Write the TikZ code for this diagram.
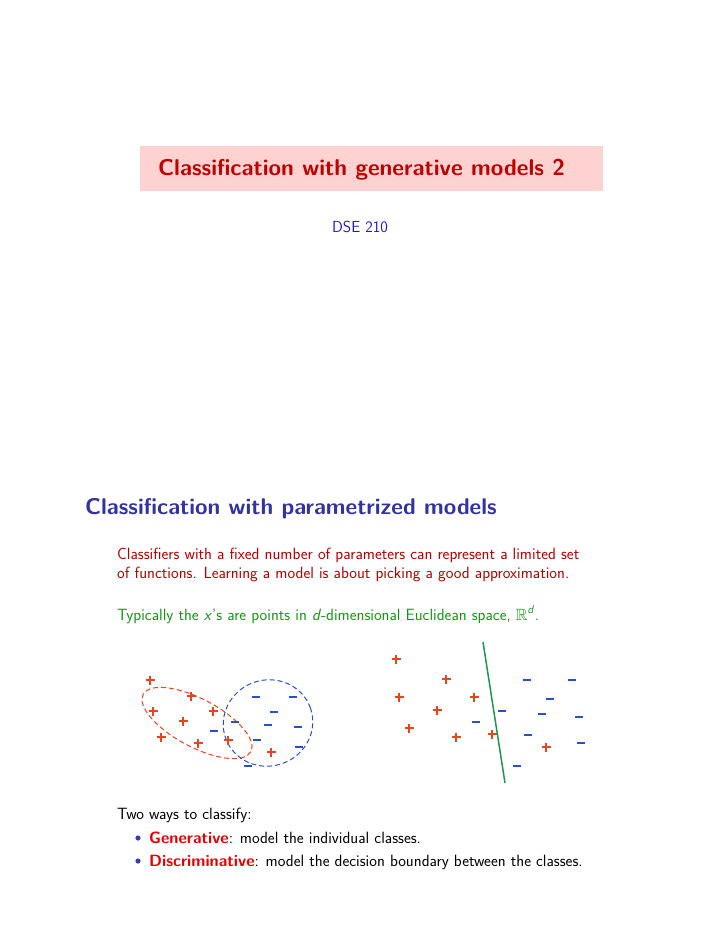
\documentclass[tikz,border=0pt]{standalone}
\usepackage{amssymb}
\definecolor{ttlred}{RGB}{190,0,0}
\definecolor{boxpink}{RGB}{255,210,210}
\definecolor{dseblue}{RGB}{30,30,200}
\definecolor{headblue}{RGB}{50,50,160}
\definecolor{parared}{RGB}{180,0,0}
\definecolor{paragreen}{RGB}{20,150,20}
\definecolor{ptred}{RGB}{230,70,30}
\definecolor{ptblue}{RGB}{40,80,200}
\definecolor{lineg}{RGB}{30,150,80}
\definecolor{genred}{RGB}{230,0,0}
\definecolor{bulblue}{RGB}{60,60,170}
\begin{document}
\begin{tikzpicture}[x=1pt,y=-1pt,font=\sffamily,
  txt/.style={anchor=base west,inner sep=0pt},
  pl/.style={ptred,line width=1.7pt},
  mi/.style={ptblue,line width=1.9pt},
  ell/.style={dashed,line width=1pt,dash pattern=on 5pt off 3pt}]
\useasboundingbox (0,0) rectangle (720,932);
\fill[boxpink] (140,146) rectangle (603,191);
\node[anchor=base west,inner sep=0pt,text=ttlred,font=\sffamily\bfseries\fontsize{22.8}{26}\selectfont] (title) at (158,175) {Classification with generative models 2};
\node[anchor=base,inner sep=0pt,text=dseblue,font=\sffamily\fontsize{16}{19}\selectfont] (dse) at (360,232) {DSE 210};
\node[txt,text=headblue,font=\sffamily\bfseries\fontsize{22.7}{26}\selectfont] (head) at (85,514) {Classification with parametrized models};
\begin{scope}[font=\sffamily\fontsize{16.3}{19}\selectfont]
\node[txt,text=parared] (p1) at (117,559) {Classifiers with a fixed number of parameters can represent a limited set};
\node[txt,text=parared] (p2) at (117,578) {of functions. Learning a model is about picking a good approximation.};
\node[txt,text=paragreen] (p3) at (117,620) {Typically the \textit{x}'s are points in \textit{d}-dimensional Euclidean space, $\mathbb{R}$\textsuperscript{\textit{d}}.};
\node[txt] (two) at (117,819) {Two ways to classify:};
\node[txt] (b1) at (149,843) {\textcolor{genred}{\bfseries Generative}: model the individual classes.};
\node[txt] (b2) at (149,866) {\textcolor{genred}{\bfseries Discriminative}: model the decision boundary between the classes.};
\end{scope}
\fill[bulblue] (138,838) circle (2.6);
\fill[bulblue] (138,861) circle (2.6);
% ellipses
\draw[ell,ptred] (197,723) ellipse[x radius=61,y radius=24,rotate=-28];
\draw[ell,ptblue] (268,723) ellipse[x radius=45,y radius=43,rotate=20];
% points
\foreach \x/\y in {150/680,191/696,153/711,213/711,183/721,161/737,198/743,228/740,271/752,
  396/659,446/679,399/697,474/697,437/710,409/728,456/737,492/734,546/747}
  \draw[pl] (\x-4.5,\y) -- (\x+4.5,\y) (\x,\y-4.5) -- (\x,\y+4.5);
\foreach \x/\y in {256/697,293/697,274/712,214/731,235/722,268/725,298/727,257/740,299/747,248/766,
  527/680,572/680,550/699,502/711,542/714,579/717,476/722,528/735,581/743,517/766}
  \draw[mi] (\x-4,\y) -- (\x+4,\y);
\coordinate (g1) at (483,642);
\coordinate (g2) at (505,783);
\draw[lineg,line width=1.5pt] (g1) -- (g2);
\end{tikzpicture}
\end{document}
